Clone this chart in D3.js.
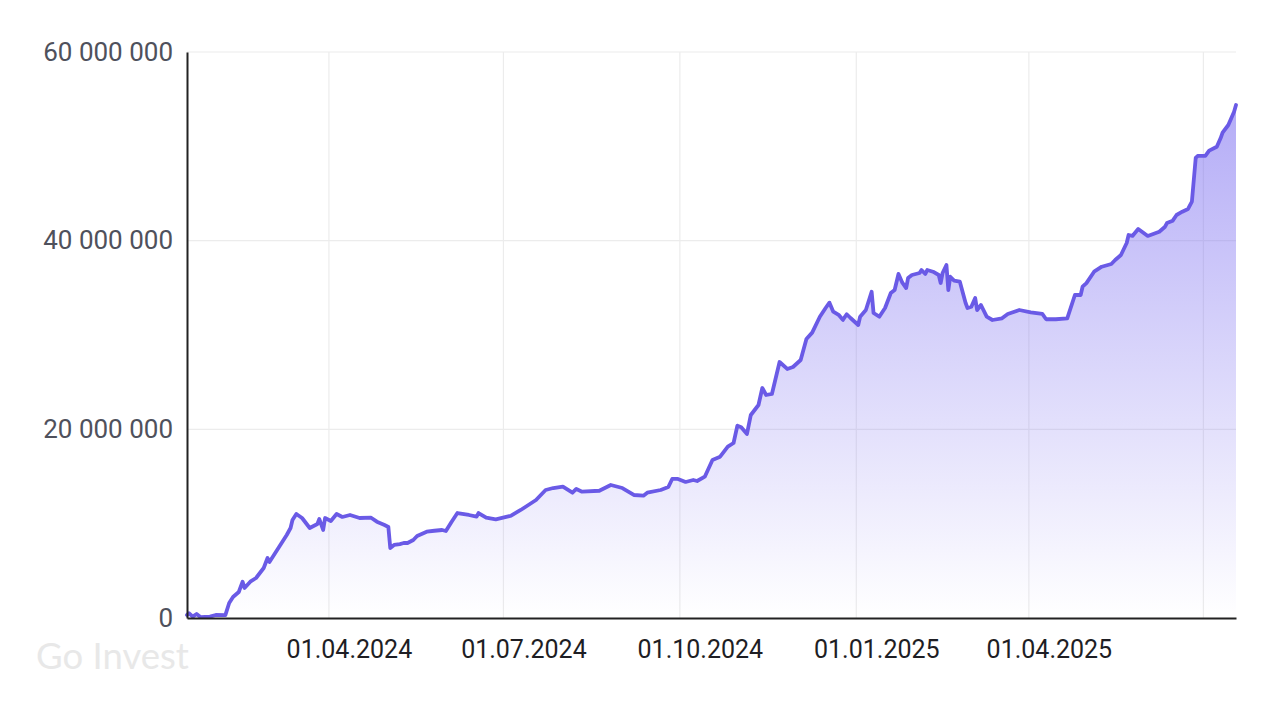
<!DOCTYPE html>
<html>
<head>
<meta charset="utf-8">
<script src="https://cdn.jsdelivr.net/npm/d3@7"></script>
<style>
  html, body { margin: 0; padding: 0; background: #fff; }
  svg { display: block; font-family: Roboto, "Noto Sans", sans-serif; }
</style>
</head>
<body>
<svg id="chart" width="1272" height="702"></svg>
<script>
const dates = [
  "2024-01-18","2024-01-19","2024-01-21","2024-01-23","2024-01-25","2024-01-30","2024-02-02","2024-02-07",
  "2024-02-09","2024-02-11","2024-02-14","2024-02-16","2024-02-17","2024-02-20","2024-02-23","2024-02-27",
  "2024-02-29","2024-03-01","2024-03-04","2024-03-06","2024-03-10","2024-03-12","2024-03-13","2024-03-15",
  "2024-03-18","2024-03-22","2024-03-26","2024-03-27","2024-03-29","2024-03-30","2024-04-02","2024-04-05",
  "2024-04-08","2024-04-12","2024-04-17","2024-04-23","2024-04-26","2024-04-30","2024-05-02","2024-05-03",
  "2024-05-05","2024-05-08","2024-05-10","2024-05-12","2024-05-15","2024-05-17","2024-05-22","2024-05-26",
  "2024-05-30","2024-06-01","2024-06-04","2024-06-07","2024-06-13","2024-06-17","2024-06-18","2024-06-22",
  "2024-06-27","2024-07-03","2024-07-05","2024-07-10","2024-07-14","2024-07-18","2024-07-23","2024-07-27",
  "2024-08-01","2024-08-06","2024-08-08","2024-08-11","2024-08-20","2024-08-26","2024-09-01","2024-09-07",
  "2024-09-12","2024-09-14","2024-09-21","2024-09-25","2024-09-27","2024-09-30","2024-10-04","2024-10-08",
  "2024-10-10","2024-10-14","2024-10-18","2024-10-22","2024-10-26","2024-10-29","2024-10-31","2024-11-02",
  "2024-11-05","2024-11-07","2024-11-11","2024-11-13","2024-11-15","2024-11-18","2024-11-22","2024-11-26",
  "2024-11-29","2024-12-03","2024-12-06","2024-12-09","2024-12-13","2024-12-16","2024-12-18","2024-12-20",
  "2024-12-23","2024-12-25","2024-12-27","2024-12-29","2025-01-02","2025-01-03","2025-01-06","2025-01-09",
  "2025-01-10","2025-01-13","2025-01-16","2025-01-19","2025-01-21","2025-01-23","2025-01-25","2025-01-27",
  "2025-01-28","2025-01-30","2025-02-03","2025-02-04","2025-02-06","2025-02-07","2025-02-10","2025-02-13",
  "2025-02-14","2025-02-15","2025-02-17","2025-02-18","2025-02-19","2025-02-21","2025-02-24","2025-02-27",
  "2025-02-28","2025-03-02","2025-03-04","2025-03-05","2025-03-07","2025-03-10","2025-03-13","2025-03-18",
  "2025-03-21","2025-03-27","2025-04-02","2025-04-08","2025-04-10","2025-04-15","2025-04-21","2025-04-25",
  "2025-04-28","2025-04-29","2025-05-01","2025-05-05","2025-05-09","2025-05-14","2025-05-16","2025-05-19",
  "2025-05-22","2025-05-23","2025-05-25","2025-05-28","2025-06-02","2025-06-08","2025-06-11","2025-06-12",
  "2025-06-15","2025-06-17","2025-06-20","2025-06-23","2025-06-25","2025-06-27","2025-06-28","2025-07-02",
  "2025-07-04","2025-07-08","2025-07-10","2025-07-11","2025-07-14","2025-07-17","2025-07-18"
];
const values = [
  0.32,0.50,0.14,0.42,0.10,0.14,0.32,0.30,
  1.59,2.23,2.76,3.85,3.18,3.85,4.24,5.30,
  6.36,5.94,6.89,7.53,8.80,9.54,10.39,11.03,
  10.60,9.54,9.96,10.49,9.33,10.60,10.28,11.03,
  10.71,10.92,10.60,10.63,10.21,9.86,9.65,7.42,
  7.74,7.84,7.95,7.95,8.27,8.69,9.15,9.25,
  9.33,9.22,10.21,11.13,10.92,10.74,11.13,10.63,
  10.46,10.74,10.84,11.45,11.98,12.51,13.57,13.78,
  13.92,13.28,13.68,13.39,13.49,14.10,13.78,13.04,
  12.97,13.28,13.57,13.89,14.74,14.74,14.42,14.63,
  14.52,14.98,16.75,17.10,18.16,18.55,20.39,20.22,
  19.51,21.52,22.58,24.38,23.64,23.75,27.14,26.40,
  26.61,27.35,29.58,30.25,31.94,32.86,33.43,32.47,
  32.10,31.60,32.20,31.80,31.06,31.94,32.65,34.59,
  32.33,31.94,32.86,34.45,34.77,36.47,35.55,34.98,
  36.04,36.36,36.57,36.89,36.47,36.89,36.71,36.36,
  35.51,36.57,37.42,34.77,36.18,35.76,35.65,33.39,
  32.86,33.00,33.92,32.65,33.18,31.94,31.59,31.77,
  32.23,32.65,32.41,32.23,31.67,31.67,31.77,34.24,
  34.24,35.12,35.50,36.71,37.24,37.53,37.95,38.48,
  39.75,40.60,40.50,41.24,40.50,40.95,41.48,41.87,
  42.12,42.72,43.07,43.36,44.13,48.77,48.98,48.98,
  49.54,49.96,50.88,51.45,52.26,53.67,54.38
];
const yTicks = [0, 20000000, 40000000, 60000000];
const xGridDates = ["2024-04-01","2024-07-01","2024-10-01","2025-01-01","2025-04-01","2025-07-01"];
const xLabelDates = ["2024-04-01","2024-07-01","2024-10-01","2025-01-01","2025-04-01"];
const watermark = "Go Invest";

const parse = d3.timeParse("%Y-%m-%d");
const data = dates.map((d, i) => ({ date: parse(d), value: values[i] * 1e6 }));

const margin = { left: 187, right: 36, top: 52, bottom: 84 };
const W = 1272, H = 702;
const svg = d3.select("#chart");

const x = d3.scaleTime()
  .domain([parse("2024-01-18"), parse("2025-07-18")])
  .range([margin.left, W - margin.right]);
const y = d3.scaleLinear()
  .domain([0, 60000000])
  .range([H - margin.bottom, margin.top]);

const defs = svg.append("defs");
const grad = defs.append("linearGradient")
  .attr("id", "areaGrad")
  .attr("gradientUnits", "userSpaceOnUse")
  .attr("x1", 0).attr("x2", 0)
  .attr("y1", y(60000000)).attr("y2", y(0));
grad.append("stop").attr("offset", "0%").attr("stop-color", "#7a6cf0").attr("stop-opacity", 0.62);
grad.append("stop").attr("offset", "100%").attr("stop-color", "#7a6cf0").attr("stop-opacity", 0.0);

// grid
const grid = svg.append("g");
grid.selectAll("line.h").data(yTicks.filter(t => t > 0)).enter().append("line")
  .attr("x1", x.range()[0]).attr("x2", x.range()[1])
  .attr("y1", d => y(d)).attr("y2", d => y(d))
  .attr("stroke", "#ececec").attr("stroke-width", 1.2);
grid.selectAll("line.v").data(xGridDates).enter().append("line")
  .attr("x1", d => x(parse(d))).attr("x2", d => x(parse(d)))
  .attr("y1", y(60000000)).attr("y2", y(0))
  .attr("stroke", "#ececec").attr("stroke-width", 1.2);

// area
const area = d3.area().x(d => x(d.date)).y0(y(0)).y1(d => y(d.value));
svg.append("path").datum(data).attr("d", area).attr("fill", "url(#areaGrad)");

// line
const line = d3.line().x(d => x(d.date)).y(d => y(d.value));
svg.append("path").datum(data).attr("d", line)
  .attr("fill", "none").attr("stroke", "#6a5ae6").attr("stroke-width", 3.8)
  .attr("stroke-linejoin", "round").attr("stroke-linecap", "round");

// axes
const yAxis = d3.axisLeft(y).tickValues(yTicks).tickSize(0).tickPadding(14)
  .tickFormat(d => d3.format(",")(d).replace(/,/g, " "));
const gy = svg.append("g").attr("transform", `translate(${margin.left},0)`).call(yAxis);
gy.select(".domain").attr("stroke", "#222").attr("stroke-width", 2);
gy.selectAll("text").attr("font-size", 26).attr("fill", "#4f515c").attr("font-family", "Roboto");

const xAxis = d3.axisBottom(x).tickValues(xLabelDates.map(parse)).tickSize(0).tickPadding(22)
  .tickFormat(d3.timeFormat("%d.%m.%Y"));
const gx = svg.append("g").attr("transform", `translate(0,${y(0)})`).call(xAxis);
gx.select(".domain").attr("stroke", "#222").attr("stroke-width", 2);
gx.selectAll("text").attr("font-size", 25).attr("fill", "#1e1e24").attr("font-family", "Roboto")
  .attr("dx", 20);

// watermark
svg.append("text").attr("x", 36).attr("y", 669).text(watermark)
  .attr("font-size", 36.5).attr("fill", "#e8e8e8").attr("font-family", "Lato, 'Open Sans', sans-serif");
</script>
</body>
</html>
